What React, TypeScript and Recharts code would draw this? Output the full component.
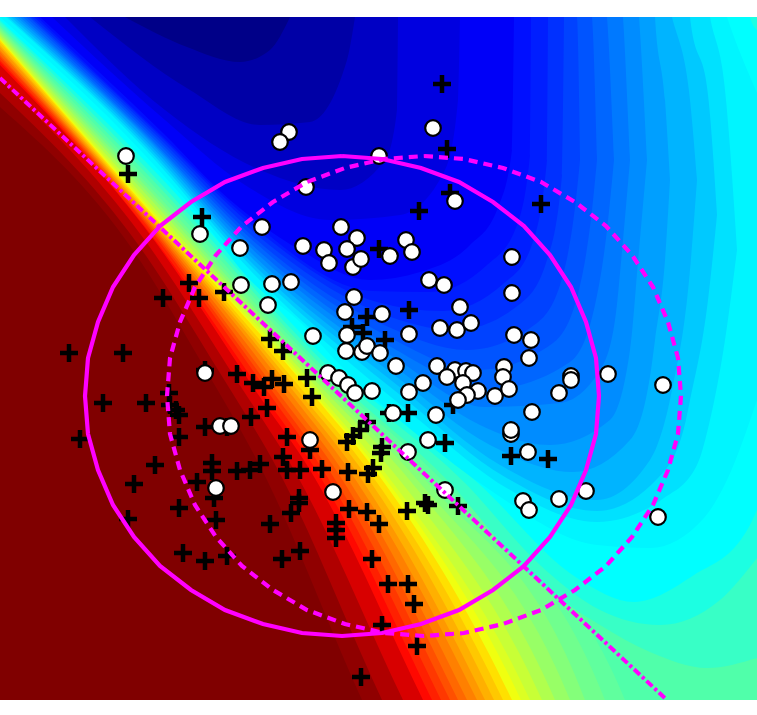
import React from "react";
import { ComposedChart, Area, Scatter, XAxis, YAxis } from "recharts";

type P = number[];

// class markers
const plusPoints: P[] = [
  [442,84],[447,149],[128,174],[450,193],[419,211],[541,204],[202,217],[379,249],[189,283],[163,298],[199,298],[224,292],
  [409,310],[367,317],[352,327],[363,333],[385,340],[270,339],[283,351],[69,353],[123,353],[205,370],[237,374],[253,383],
  [272,379],[264,387],[284,384],[307,378],[312,397],[103,403],[146,403],[169,393],[170,405],[176,410],[179,415],[205,427],
  [227,427],[267,408],[251,417],[179,437],[80,439],[287,437],[283,457],[310,450],[367,422],[408,413],[389,413],[360,430],
  [353,436],[347,442],[445,443],[453,405],[382,447],[381,453],[511,456],[548,459],[155,465],[212,463],[212,471],[237,471],
  [250,470],[260,464],[287,470],[300,470],[322,469],[348,472],[373,468],[368,474],[134,484],[197,482],[214,498],[179,508],
  [216,520],[128,519],[270,524],[299,498],[299,503],[291,513],[349,509],[367,512],[379,524],[407,511],[425,503],[428,505],
  [458,506],[336,523],[336,530],[336,538],[183,553],[205,561],[227,556],[282,559],[300,551],[372,559],[388,584],[408,584],
  [414,604],[382,625],[417,646],[361,677],
];
const circlePoints: P[] = [
  [126,156],[200,234],[240,248],[262,227],[289,132],[280,142],[433,128],[379,156],[306,187],[455,201],[341,227],[357,238],
  [303,246],[324,250],[347,249],[329,263],[353,267],[361,259],[406,240],[412,252],[390,256],[512,257],[272,284],[291,282],
  [241,285],[429,280],[444,285],[354,297],[512,293],[268,305],[345,312],[382,314],[409,334],[440,328],[457,330],[313,336],
  [347,335],[346,351],[362,352],[367,346],[380,353],[396,366],[460,307],[471,323],[514,335],[531,340],[529,358],[504,367],
  [503,377],[437,366],[455,370],[466,371],[473,373],[447,377],[463,383],[423,383],[478,391],[495,396],[509,389],[467,395],
  [458,400],[409,392],[328,373],[339,378],[348,385],[355,393],[372,391],[393,413],[436,415],[559,393],[571,376],[571,380],
  [608,374],[663,385],[532,412],[511,434],[511,430],[528,452],[586,491],[559,499],[523,501],[529,510],[658,517],[445,490],
  [205,373],[220,426],[231,426],[216,488],[333,492],[310,440],[428,440],[408,452],
];

// class contours and decision boundary
const solidRing: P[] = [
  [342,156],[382,159],[421,168],[459,182],[493,202],[524,226],[550,255],[571,287],[586,322],[596,358],[599,396],
  [596,434],[586,470],[571,505],[550,537],[524,566],[493,590],[459,610],[421,624],[382,633],[342,636],
  [302,633],[263,624],[225,610],[191,590],[160,566],[134,537],[113,505],[98,470],[88,434],[85,396],
  [88,358],[98,322],[113,287],[134,255],[160,226],[191,202],[225,182],[263,168],[302,159],[342,156],
];
const dashedRing: P[] = [
  [424,156],[464,159],[503,168],[541,182],[575,202],[606,226],[632,255],[653,287],[668,322],[678,358],[681,396],
  [678,434],[668,470],[653,505],[632,537],[606,566],[575,590],[541,610],[503,624],[464,633],[424,636],
  [384,633],[345,624],[307,610],[273,590],[242,566],[216,537],[195,505],[180,470],[170,434],[167,396],
  [170,358],[180,322],[195,287],[216,255],[242,226],[273,202],[307,182],[345,168],[384,159],[424,156],
];
const boundaryLine: P[] = [[0,78],[667,700]];

// filled colour levels, painted in order: [x, lower edge, upper edge (above the plot if left out)]
const levelFills: string[] = [
  "#800000","#900000","#b00000","#d80000","#ff0800",
  "#ff2000","#ff3800","#ff5000","#ff6800","#ff8000","#ff9800","#ffb000","#ffc800","#ffe000",
  "#f0ff0f","#dcff23","#c8ff36","#b0ff4e","#98ff66","#84ff7a","#70ff8e","#60ff9e","#50ffaa",
  "#38ffc6","#1cffe2","#00ffff",
  "#00f5ff","#00e1ff","#00c9ff","#00b4ff","#009fff","#008cff","#0079ff","#0066ff","#0054ff","#0042ff","#0030ff","#001eff","#000fff",
  "#0000f8","#0000e0","#0000c4","#0000a6","#000088",
];
const levelEdges: P[][] = [
  [[0,700],[757,700]],
  [[0,107],[133,250],[200,360],[262,470],[362,700],[757,1400]],
  [[0,93],[137,243],[220,373],[278,470],[382,700],[757,1400]],
  [[0,79],[141,235],[241,387],[294,470],[403,700],[757,1400]],
  [[0,65],[145,228],[262,400],[310,470],[423,700],[757,1400]],
  [[0,62],[146,228],[267,400],[316,470],[432,700],[757,1400]],
  [[0,60],[148,227],[273,399],[323,470],[441,700],[757,1400]],
  [[0,57],[149,226],[278,399],[329,470],[450,700],[757,1400]],
  [[0,55],[151,226],[283,399],[336,470],[458,700],[757,1400]],
  [[0,52],[152,225],[288,398],[342,470],[467,700],[757,1400]],
  [[0,50],[154,225],[294,398],[349,470],[477,700],[757,1400]],
  [[0,47],[155,224],[299,398],[355,470],[485,700],[757,1400]],
  [[0,45],[157,224],[304,398],[362,470],[494,700],[757,1400]],
  [[0,42],[158,223],[309,398],[368,470],[503,700],[757,1400]],
  [[0,40],[160,223],[315,397],[375,470],[512,700],[757,1400]],
  [[0,39],[159,220],[316,396],[384,477],[521,700],[757,1400]],
  [[0,38],[158,216],[318,394],[393,483],[530,700],[757,1400]],
  [[0,36],[156,210],[320,391],[402,483],[542,700],[757,1400]],
  [[0,34],[155,204],[322,388],[412,483],[555,700],[757,1400]],
  [[0,32],[154,199],[324,386],[420,483],[570,700],[757,1400]],
  [[0,30],[153,194],[326,384],[428,483],[585,700],[757,1400]],
  [[0,28],[151,188],[328,381],[436,483],[605,700],[757,1400]],
  [[0,27],[150,182],[330,378],[445,483],[625,700],[757,1400]],
  [[0,25],[149,176],[332,376],[450,483],[530,575],[600,625],[650,652],[707,668],[757,658]],
  [[0,22],[147,169],[334,372],[465,483],[540,565],[600,610],[660,625],[720,600],[757,558]],
  [[0,20],[145,161],[337,369],[478,483],[577,578],[634,602],[694,575],[744,535],[750,525,17],[757,510,30]],
  [[0,17],[143,153],[200,217],[250,280],[300,322],[340,365],[420,437],[490,490],[597,545],[650,548],[704,518],[727,480,17],[757,400,93]],
  [[6,17],[146,150],[250,270],[413,415],[510,490],[597,522],[664,498],[697,465],[710,420,17],[725,340,90],[737,250,250]],
  [[8,17],[147,148],[250,265],[410,403],[505,477],[597,511],[657,479],[684,428],[690,400,17],[708,300,95],[717,215,215]],
  [[11,17],[149,147],[250,261],[406,392],[500,465],[597,500],[650,460],[672,390,17],[690,270,100],[697,180,180]],
  [[14,17],[150,145],[250,256],[402,381],[490,445],[573,472],[630,440],[651,370],[655,340,17],[665,260,100],[670,180,180]],
  [[17,17],[152,144],[250,252],[399,370],[480,425],[550,445],[610,420],[630,350],[639,250,17],[647,160,160]],
  [[20,17],[153,143],[250,247],[395,358],[485,407],[560,403],[600,370],[615,320],[623,240,17],[630,160,160]],
  [[23,17],[154,142],[250,243],[391,347],[490,389],[570,362],[595,305],[607,230,17],[614,160,160]],
  [[26,17],[155,140],[250,238],[387,336],[478,370],[553,343],[579,290],[592,210,17],[597,160,160]],
  [[29,17],[157,139],[250,234],[384,325],[467,350],[537,323],[563,275],[577,190,17],[580,160,160]],
  [[31,17],[158,137],[250,229],[380,313],[455,330],[520,304],[546,263],[562,175],[564,17]],
  [[34,17],[160,136],[250,224],[377,302],[443,311],[503,284],[530,250],[547,160],[548,17]],
  [[37,17],[161,135],[250,220],[373,291],[430,292],[487,265],[515,230],[530,155],[531,17]],
  [[40,17],[163,133],[230,200],[300,250],[370,280],[420,272],[470,245],[497,210],[512,150],[514,17]],
  [[52,17],[165,120],[245,185],[330,220],[400,215],[445,170],[458,100],[460,17]],
  [[65,17],[165,110],[260,170],[340,190],[385,160],[397,110],[398,17]],
  [[90,17],[190,90],[260,125],[310,122],[347,60],[355,17]],
  [[125,17],[187,47],[240,62],[270,50],[290,17]],
];

const toXY = (rows: P[]) => rows.map(([x, y]) => ({ x, y }));
const toBand = (rows: P[]) => rows.map(([x, low, high]) => ({ x, band: [low, high ?? -60] }));

const Plus = (p: any) => (
  <path d={`M${p.cx - 9} ${p.cy}H${p.cx + 9}M${p.cx} ${p.cy - 9}V${p.cy + 9}`} stroke="#000" strokeWidth={4.5} fill="none" />
);
const Dot = (p: any) => <circle cx={p.cx} cy={p.cy} r={7.8} fill="#fff" stroke="#000" strokeWidth={2.2} />;
const NoMark = () => <g />;

export default function App() {
  return (
    <div style={{ position: "absolute", left: 0, top: 0, width: 757, height: 715, background: "#fff" }}>
      <ComposedChart width={757} height={715} margin={{ top: 17, right: 0, bottom: 15, left: 0 }}>
        <XAxis dataKey="x" type="number" domain={[0, 757]} hide allowDataOverflow />
        <YAxis dataKey="y" type="number" domain={[17, 700]} reversed hide allowDataOverflow width={0} />
        {levelEdges.map((rows, i) => (
          <Area
            key={i}
            data={toBand(rows)}
            dataKey="band"
            type="monotoneX"
            fill={levelFills[i]}
            fillOpacity={1}
            stroke="none"
            dot={false}
            activeDot={false}
            isAnimationActive={false}
          />
        ))}
        <Scatter data={toXY(plusPoints)} shape={Plus} isAnimationActive={false} />
        <Scatter data={toXY(circlePoints)} shape={Dot} isAnimationActive={false} />
        <Scatter data={toXY(dashedRing)} shape={NoMark} line={{ stroke: "#ff00ff", strokeWidth: 4.2, strokeDasharray: "9 6" }} isAnimationActive={false} />
        <Scatter data={toXY(solidRing)} shape={NoMark} line={{ stroke: "#ff00ff", strokeWidth: 4.2 }} isAnimationActive={false} />
        <Scatter data={toXY(boundaryLine)} shape={NoMark} line={{ stroke: "#ff00ff", strokeWidth: 4, strokeDasharray: "8 3 3 3" }} isAnimationActive={false} />
      </ComposedChart>
    </div>
  );
}
